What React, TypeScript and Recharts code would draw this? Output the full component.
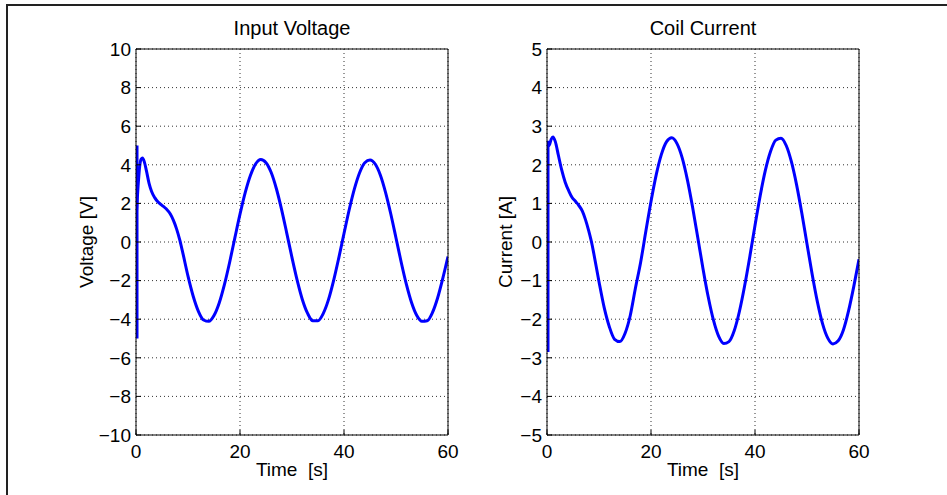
import React from "react";
import {
  LineChart,
  Line,
  XAxis,
  YAxis,
  CartesianGrid,
} from "recharts";

// time axis ticks (s)
const timeTicks = [0, 20, 40, 60];
const voltTicks = [-10, -8, -6, -4, -2, 0, 2, 4, 6, 8, 10];
const currTicks = [-5, -4, -3, -2, -1, 0, 1, 2, 3, 4, 5];

// Input voltage
const voltTime = [
  0, 0.4, 0.7, 1.0, 1.25, 1.6, 2.0, 2.5, 3.0, 3.6, 4.2, 5.0, 5.8, 6.6, 7.2, 7.8, 8.4,
  9, 10, 11, 12, 13, 14, 15, 16, 17, 18, 19, 20, 21, 22, 23, 24, 25, 26, 27, 28,
  29, 30, 31, 32, 33, 34, 35, 36, 37, 38, 39, 40, 41, 42, 43, 44, 45, 46, 47, 48,
  49, 50, 51, 52, 53, 54, 55, 56, 57, 58, 59, 60,
];
const voltValues = [
  1.2, 2.9, 3.9, 4.3, 4.35, 4.15, 3.7, 3.05, 2.62, 2.3, 2.08, 1.9, 1.72, 1.45, 1.12, 0.68, 0.12,
  -0.56, -1.77, -2.81, -3.59, -4.04, -4.11, -3.81, -3.16, -2.21, -1.06, 0.2, 1.44, 2.56, 3.45, 4.04, 4.27, 4.11, 3.6, 2.76, 1.68,
  0.45, -0.81, -1.99, -2.99, -3.7, -4.08, -4.08, -3.71, -3.0, -2.0, -0.82, 0.44, 1.67, 2.75, 3.59, 4.11, 4.25, 4.04, 3.46, 2.56,
  1.45, 0.21, -1.05, -2.2, -3.15, -3.81, -4.11, -4.08, -3.66, -2.9, -1.88, -0.75,
];
// switch-on spike at t = 0
const voltSpikeTime = [0, 0];
const voltSpikeValues = [-5, 5];

// Coil current
const currTime = [
  0, 0.4, 0.8, 1.15, 1.6, 2.2, 2.8, 3.5, 4.2, 4.8, 5.5, 6.1, 6.8, 7.4, 8.0, 8.7,
  9, 10, 11, 12, 13, 14, 15, 16, 17, 18, 19, 20, 21, 22, 23, 24, 25, 26, 27, 28,
  29, 30, 31, 32, 33, 34, 35, 36, 37, 38, 39, 40, 41, 42, 43, 44, 45, 46, 47, 48,
  49, 50, 51, 52, 53, 54, 55, 56, 57, 58, 59, 60,
];
const currValues = [
  2.6, 2.5, 2.66, 2.72, 2.6, 2.24, 1.88, 1.55, 1.32, 1.16, 1.05, 0.95, 0.8, 0.58, 0.3, -0.09,
  -0.3, -1.03, -1.7, -2.2, -2.52, -2.58, -2.37, -1.91, -1.2, -0.53, 0.27, 1.05, 1.74, 2.27, 2.6, 2.7, 2.55, 2.18, 1.61, 0.9,
  0.11, -0.69, -1.42, -2.02, -2.44, -2.63, -2.58, -2.3, -1.8, -1.14, -0.38, 0.43, 1.2, 1.86, 2.35, 2.64, 2.69, 2.5, 2.08, 1.48,
  0.75, -0.05, -0.84, -1.55, -2.12, -2.49, -2.64, -2.56, -2.28, -1.78, -1.15, -0.45,
];
const currSpikeTime = [0, 0];
const currSpikeValues = [-2.85, 2.62];

type Pt = { t: number; v: number };
const toRows = (ts: number[], vs: number[]): Pt[] =>
  ts.map((t, i) => ({ t, v: vs[i] }));

const font = "'Liberation Sans', Arial, Helvetica, sans-serif";
const fmt = (n: number) => (n < 0 ? "\u2212" + Math.abs(n) : String(n));

type PanelProps = {
  left: number;
  width: number;
  margin: { top: number; right: number; bottom: number; left: number };
  yWidth: number;
  title: string;
  yLabel: string;
  domain: [number, number];
  yTicks: number[];
  main: Pt[];
  spike: Pt[];
};

const Panel: React.FC<PanelProps> = (p) => (
  <div style={{ position: "absolute", left: p.left, top: 0 }}>
    <LineChart
      width={p.width}
      height={495}
      margin={p.margin}
      style={{ fontFamily: font }}
    >
      <CartesianGrid
        stroke="#333"
        strokeDasharray="1 3"
        horizontalValues={p.yTicks}
        verticalValues={timeTicks}
      />
      <XAxis
        dataKey="t"
        type="number"
        domain={[0, 60]}
        ticks={timeTicks}
        allowDataOverflow
        height={50}
        stroke="#000"
        tickSize={-5}
        tickMargin={15}
        tick={{ fontSize: 19, fill: "#000" }}
        label={{
          value: "Time\u00a0 [s]",
          position: "insideBottom",
          offset: 9,
          fontSize: 19,
          fill: "#000",
        }}
      />
      <XAxis
        xAxisId="top"
        orientation="top"
        dataKey="t"
        type="number"
        domain={[0, 60]}
        ticks={timeTicks}
        height={42}
        stroke="#000"
        tickSize={-5}
        tick={false}
        label={{
          value: p.title,
          position: "center",
          fontSize: 20,
          fill: "#000",
        }}
      />
      <YAxis
        type="number"
        domain={p.domain}
        ticks={p.yTicks}
        allowDataOverflow
        width={p.yWidth}
        stroke="#000"
        tickSize={-5}
        tickMargin={10}
        tickFormatter={fmt}
        tick={{ fontSize: 19, fill: "#000" }}
        label={{
          value: p.yLabel,
          position: "center",
          angle: -90,
          fontSize: 19,
          fill: "#000",
        }}
      />
      <YAxis
        yAxisId="right"
        orientation="right"
        type="number"
        domain={p.domain}
        ticks={p.yTicks}
        width={1}
        stroke="#000"
        tickSize={-5}
        tick={false}
      />
      <Line
        data={p.spike}
        dataKey="v"
        type="linear"
        stroke="#0000ff"
        strokeWidth={5}
        dot={false}
        isAnimationActive={false}
      />
      <Line
        data={p.main}
        dataKey="v"
        type="monotone"
        stroke="#0000ff"
        strokeWidth={3}
        dot={false}
        isAnimationActive={false}
      />
    </LineChart>
  </div>
);

export default function App() {
  return (
    <div
      style={{
        position: "absolute",
        left: 0,
        top: 0,
        width: 947,
        height: 495,
        background: "#fff",
        overflow: "hidden",
      }}
    >
      <div
        style={{
          position: "absolute",
          left: 6,
          top: 4,
          width: 960,
          height: 520,
          borderTop: "2px solid #222",
          borderLeft: "2px solid #222",
        }}
      />
      <Panel
        left={0}
        width={470}
        margin={{ top: 7, right: 21, bottom: 10, left: 36 }}
        yWidth={100}
        title="Input Voltage"
        yLabel="Voltage [V]"
        domain={[-10, 10]}
        yTicks={voltTicks}
        main={toRows(voltTime, voltValues)}
        spike={toRows(voltSpikeTime, voltSpikeValues)}
      />
      <Panel
        left={450}
        width={440}
        margin={{ top: 7, right: 30, bottom: 10, left: 13 }}
        yWidth={84}
        title="Coil Current"
        yLabel="Current [A]"
        domain={[-5, 5]}
        yTicks={currTicks}
        main={toRows(currTime, currValues)}
        spike={toRows(currSpikeTime, currSpikeValues)}
      />
    </div>
  );
}
